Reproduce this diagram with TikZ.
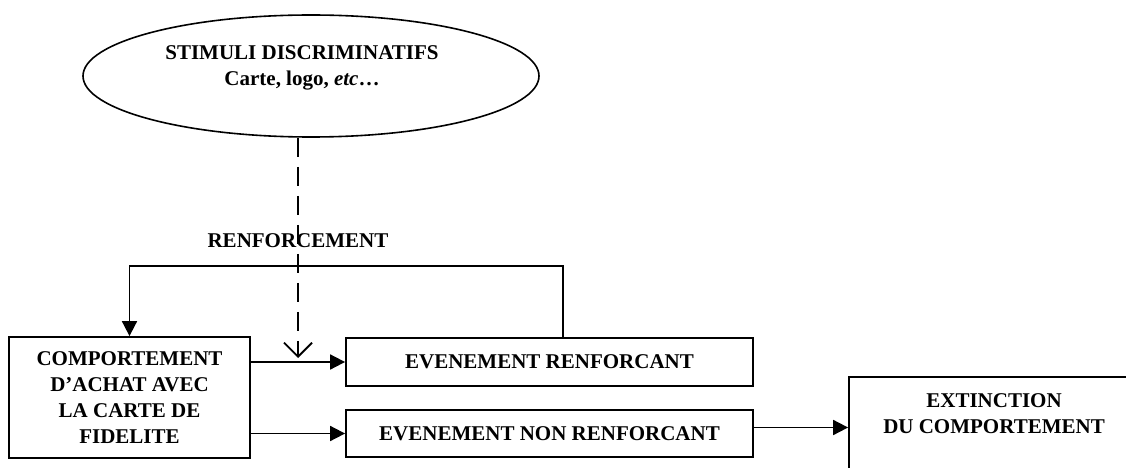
\documentclass[tikz,border=0pt]{standalone}
\usepackage{fontspec}
\setmainfont{Liberation Serif}
\usetikzlibrary{shapes.geometric,arrows.meta}
\tikzset{
  lbl/.style={font=\fontsize{21}{26}\selectfont\bfseries, align=center, inner sep=0pt},
  box/.style={draw, line width=1.8pt, inner sep=0pt},
  arr/.style={line width=1.8pt, -{Triangle[length=15pt,width=15pt]}},
  dasharr/.style={line width=1.8pt, dash pattern=on 19pt off 10pt, -{Straight Barb[length=14pt,width=28pt,line width=1.8pt]}},
}
\begin{document}
\begin{tikzpicture}[x=1pt,y=-1pt]
\useasboundingbox (0,0) rectangle (1126,468);
\clip (0,0) rectangle (1126,468);
% ellipse
\node[draw, ellipse, line width=1.6pt, minimum width=456pt, minimum height=122pt, inner sep=0pt] (stim) at (311,76) {};
\node[lbl] (stimtext) at (302,68) {STIMULI DISCRIMINATIFS\\Carte, logo, \textit{etc}\ldots};
% boxes
\node[box, minimum width=241pt, minimum height=121pt] (comp) at (129.5,397.5) {};
\node[lbl] (comptext) at (129.5,398) {COMPORTEMENT\\D’ACHAT AVEC\\LA CARTE DE\\FIDELITE};
\node[box, minimum width=407pt, minimum height=48pt, lbl] (er) at (549.5,362) {EVENEMENT RENFORCANT};
\node[box, minimum width=407pt, minimum height=47pt, lbl] (nr) at (549.5,433.5) {EVENEMENT NON RENFORCANT};
\node[box, minimum width=290pt, minimum height=110pt] (ext) at (994,432) {};
\node[lbl] (exttext) at (994,414) {EXTINCTION\\DU COMPORTEMENT};
% label
\node[lbl] (renf) at (298,241) {RENFORCEMENT};
% connectors
\coordinate (fb) at (563,266);
\draw[arr] (er.north -| fb) -- (fb) -| (comp.north);
\draw[arr] (comp.east |- er.west) -- (er.west);
\draw[arr] (comp.east |- nr.west) -- (nr.west);
\coordinate (nrout) at ([yshift=6pt]nr.east);
\draw[arr] (nrout) -- (nrout -| ext.west);
\coordinate (dtip) at (298,358);
\draw[dasharr] (stim.south -| dtip) -- (dtip);
\end{tikzpicture}
\end{document}
